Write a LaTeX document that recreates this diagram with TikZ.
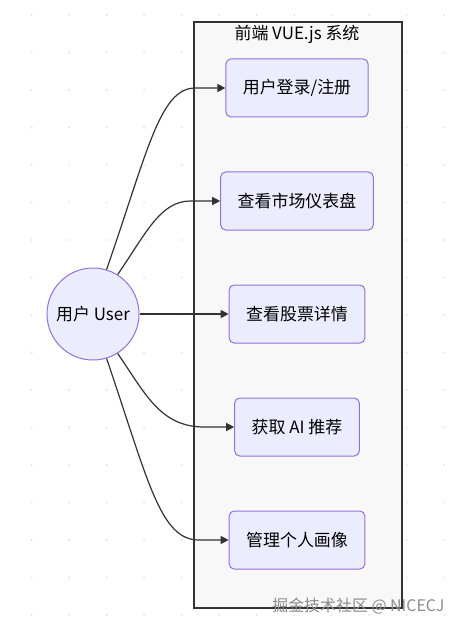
\documentclass[tikz,border=0pt]{standalone}
\usepackage{fontspec}
\setmainfont{Noto Sans CJK SC}
\usetikzlibrary{arrows.meta, positioning}
\definecolor{nodefill}{HTML}{ECECFF}
\definecolor{nodeline}{HTML}{9370DB}
\definecolor{edgeline}{HTML}{333333}
\definecolor{groupfill}{HTML}{F8F8F8}
\tikzset{>={Triangle[length=8bp,width=8bp]}}
\tikzset{
	task/.style={draw=nodeline, fill=nodefill, rounded corners=5bp, minimum height=58bp, inner xsep=17bp, line width=1bp, font=\fontsize{17}{20}\selectfont},
	actor/.style={circle, draw=nodeline, fill=nodefill, minimum size=92bp, inner sep=0pt, line width=1bp, font=\fontsize{17}{20}\selectfont},
	flow/.style={->, draw=edgeline, line width=1.2bp}
}
\begin{document}
\begin{tikzpicture}[x=1bp, y=-1bp]
	\useasboundingbox (0,0) rectangle (465,631);
	% dotted background
	\foreach \i in {0,...,12}
		\foreach \j in {0,...,16}
			\fill[black!12] (31.7+37.5*\i, 15+37.5*\j) circle (1bp);
	
	\node[draw=edgeline, fill=groupfill, line width=2bp, minimum width=208bp, minimum height=586bp, anchor=north west] (front) at (193,21) {};
	\node[font=\fontsize{17}{20}\selectfont] (title) at (297,34) {前端 VUE.js 系统};
	
	\node[actor]	(user)	at	(93,314)	{用户 User};
	\node[task]	(login)	at	(297,88)	{用户登录/注册};
	\node[task]	(dash)	at	(297,201)	{查看市场仪表盘};
	\node[task]	(detail)	at	(297,314)	{查看股票详情};
	\node[task]	(advice)	at	(297,427)	{获取 AI 推荐};
	\node[task]	(profile)	at	(297,540)	{管理个人画像};
	
	\draw[flow] (user.73) .. controls (148,150) and (160,88) .. ([xshift=-30bp]login.west) -- (login.west);
	\draw[flow] (user.58) .. controls (145,235) and (160,201) .. ([xshift=-30bp]dash.west) -- (dash.west);
	\draw[flow] (user.east) -- (detail.west);
	\draw[flow] (user.-58) .. controls (145,393) and (160,427) .. ([xshift=-30bp]advice.west) -- (advice.west);
	\draw[flow] (user.-73) .. controls (148,480) and (160,540) .. ([xshift=-30bp]profile.west) -- (profile.west);
	
	% watermark
	\node[anchor=east, text=black!45, font=\fontsize{16}{18}\selectfont] (mark) at (448,606) {掘金技术社区 @ NICECJ};
\end{tikzpicture}
\end{document}
